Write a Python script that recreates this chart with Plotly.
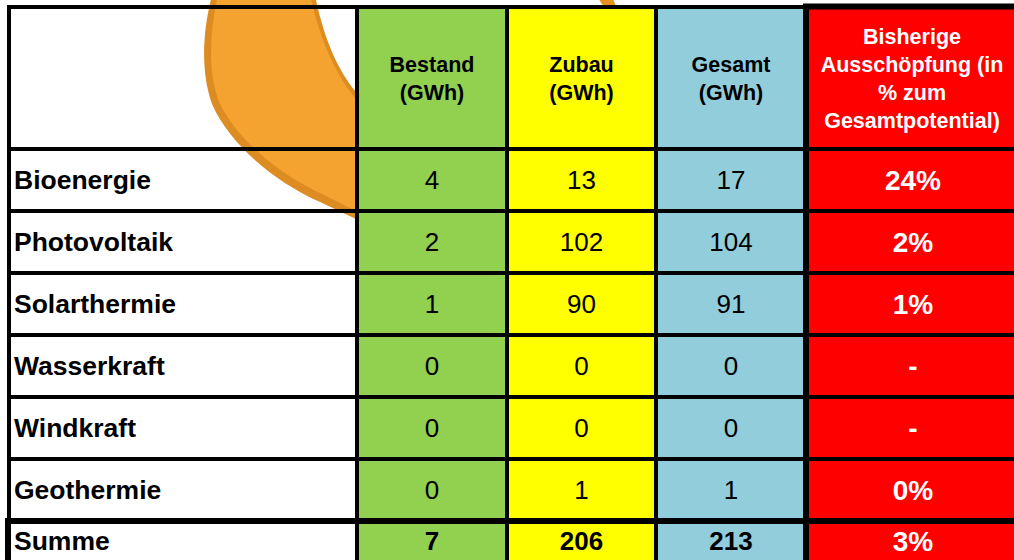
import plotly.graph_objects as go

# ---------------- data ----------------
categories = ["Bioenergie", "Photovoltaik", "Solarthermie", "Wasserkraft", "Windkraft", "Geothermie"]
bestand = [4, 2, 1, 0, 0, 0]
zubau = [13, 102, 90, 0, 0, 1]
gesamt = [17, 104, 91, 0, 0, 1]
ausschoepfung = ["24%", "2%", "1%", "-", "-", "0%"]
summe_label = "Summe"
summe_values = [7, 206, 213, "3%"]
headers = ["Bestand<br>(GWh)", "Zubau<br>(GWh)", "Gesamt<br>(GWh)",
           "Bisherige<br>Ausschöpfung (in<br>% zum<br>Gesamtpotential)"]

# ---------------- layout / style ----------------
W, H = 1014, 560
x_edges = [9, 357, 507, 656, 806, 1030]
y_edges = [7, 149, 211, 273, 335, 397, 459, 521, 561]
fills = ["#92D050", "#FFFF00", "#92CDDC", "#FF0000"]
FONT = "Liberation Sans, Arial, sans-serif"
DY = 2.5  # vertical text nudge

def xc(i):
    return (x_edges[i] + x_edges[i + 1]) / 2

def yc(j):
    return (y_edges[j] + y_edges[j + 1]) / 2 + DY

shapes = []

# orange swoosh (logo in background)
swoosh = ("M 212,-5 C 203,30 200,70 212,104 C 230,145 275,182 320,202 "
          "L 356,219 L 380,180 L 380,60 L 356,92 "
          "C 338,70 324,40 315,-5 Z")
shapes.append(dict(type="path", path=swoosh, fillcolor="#DC8C20",
                   line=dict(width=0), layer="below"))
swoosh_in = ("M 218,-5 C 210,30 207,70 219,102 C 237,140 280,175 324,195 "
             "L 356,211 L 375,170 L 375,70 L 356,99 "
             "C 336,75 320,40 310,-5 Z")
shapes.append(dict(type="path", path=swoosh_in, fillcolor="#F4A230",
                   line=dict(width=0), layer="below"))
shapes.append(dict(type="path", path="M 597,-5 C 600,2 603,6 606,9 L 618,9 C 615,4 613,0 612,-5 Z",
                   fillcolor="#E8911F", line=dict(width=0), layer="below"))

# column fills
for c, col in enumerate(fills):
    shapes.append(dict(type="rect", x0=x_edges[c + 1], x1=x_edges[c + 2],
                       y0=y_edges[0], y1=y_edges[-1] + 20, fillcolor=col,
                       line=dict(width=0), layer="below"))

# grid lines
thin = 4
for x in x_edges[:4]:
    shapes.append(dict(type="line", x0=x, x1=x, y0=y_edges[0] - 2, y1=H + 5,
                       line=dict(color="black", width=thin)))
shapes.append(dict(type="line", x0=x_edges[0] - 2, x1=x_edges[4], y0=y_edges[0], y1=y_edges[0],
                   line=dict(color="black", width=thin)))
for y in y_edges[1:-2]:
    shapes.append(dict(type="line", x0=x_edges[0], x1=W + 5, y0=y, y1=y,
                       line=dict(color="black", width=thin)))
# thick box: red column
thick = 6
shapes.append(dict(type="line", x0=x_edges[4], x1=x_edges[4], y0=y_edges[0] - 3, y1=H + 5,
                   line=dict(color="black", width=thick)))
shapes.append(dict(type="line", x0=x_edges[4] - 3, x1=W + 5, y0=y_edges[0] - 0.5, y1=y_edges[0] - 0.5,
                   line=dict(color="black", width=thick)))
# thick box: Summe row
shapes.append(dict(type="line", x0=x_edges[0] - 4, x1=W + 5, y0=y_edges[-2], y1=y_edges[-2],
                   line=dict(color="black", width=thick)))
shapes.append(dict(type="line", x0=x_edges[0] - 1, x1=x_edges[0] - 1, y0=y_edges[-2], y1=H + 5,
                   line=dict(color="black", width=thick)))

fig = go.Figure()

n = len(categories)
rows_y = [yc(j + 1) for j in range(n)]

# row labels
fig.add_trace(go.Scatter(
    x=[x_edges[0] + 5] * n + [x_edges[0] + 5], y=rows_y + [yc(n + 1)],
    text=["<b>%s</b>" % s for s in categories] + ["<b>%s</b>" % summe_label],
    mode="text", textposition="middle right",
    textfont=dict(family=FONT, size=26.5, color="black"), hoverinfo="skip"))

# numeric columns
for c, vals in enumerate([bestand, zubau, gesamt]):
    fig.add_trace(go.Scatter(
        x=[xc(c + 1)] * (n + 1), y=rows_y + [yc(n + 1)],
        text=[str(v) for v in vals] + ["<b>%s</b>" % summe_values[c]],
        mode="text", textposition="middle center",
        textfont=dict(family=FONT, size=26, color="black"), hoverinfo="skip"))

# percentage column
fig.add_trace(go.Scatter(
    x=[xc(4) - 5] * (n + 1), y=rows_y + [yc(n + 1)],
    text=["<b>%s</b>" % v for v in ausschoepfung] + ["<b>%s</b>" % summe_values[3]],
    mode="text", textposition="middle center",
    textfont=dict(family=FONT, size=28, color="white"), hoverinfo="skip"))

# headers
fig.add_trace(go.Scatter(
    x=[xc(1), xc(2), xc(3)], y=[yc(0)] * 3,
    text=["<b>%s</b>" % h for h in headers[:3]],
    mode="text", textposition="middle center",
    textfont=dict(family=FONT, size=21.5, color="black"), hoverinfo="skip"))
fig.add_trace(go.Scatter(
    x=[xc(4) - 6], y=[yc(0)],
    text=["<b>%s</b>" % headers[3]],
    mode="text", textposition="middle center",
    textfont=dict(family=FONT, size=21.5, color="white"), hoverinfo="skip"))

fig.update_layout(
    width=W, height=H, margin=dict(l=0, r=0, t=0, b=0),
    paper_bgcolor="white", plot_bgcolor="rgba(0,0,0,0)",
    showlegend=False, shapes=shapes,
    xaxis=dict(range=[0, W], visible=False, fixedrange=True),
    yaxis=dict(range=[H, 0], visible=False, fixedrange=True),
)

fig.write_html("out.html", config={"displayModeBar": False},
               post_script="document.body.style.margin='0';document.body.style.overflow='hidden';")
